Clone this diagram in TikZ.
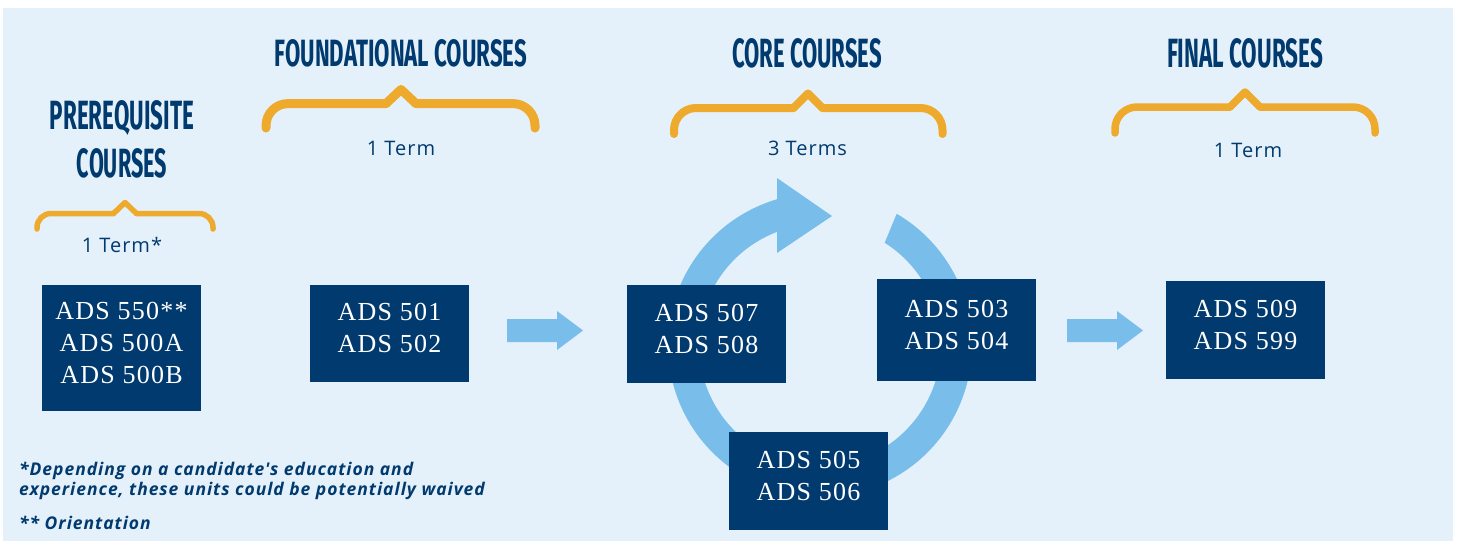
\documentclass[tikz,border=0pt]{standalone}
\usepackage{graphicx}
\usepackage{fontspec}
\setmainfont{Liberation Serif}
\newfontfamily\boxfamily{Liberation Serif}[LetterSpace=4.8]
\newfontfamily\labfamily{Open Sans}[LetterSpace=5]
\newfontfamily\notefamily{Open Sans}[LetterSpace=5.5]
\newfontfamily\headfamily{Fira Sans}
\definecolor{bgblue}{HTML}{E5F1FA}
\definecolor{navy}{HTML}{003A6E}
\definecolor{sky}{HTML}{79BEEA}
\definecolor{gold}{HTML}{EEAA2D}
\newcommand{\hd}[3]{\resizebox{#1pt}{#2pt}{#3}}
\begin{document}
\begin{tikzpicture}[x=1pt,y=-1pt,
  box/.style={fill=navy, minimum width=159pt, inner sep=0pt},
  boxtxt/.style={text=white, align=center, inner sep=0pt, font=\boxfamily\fontsize{26}{32}\selectfont},
  head/.style={text=navy, inner sep=0pt, anchor=base, font=\headfamily\bfseries},
  term/.style={text=navy, inner sep=0pt, anchor=base, font=\labfamily\fontsize{20}{24}\selectfont},
  note/.style={text=navy, inner sep=0pt, anchor=base west, font=\notefamily\bfseries\itshape\fontsize{17.5}{20}\selectfont},
  brace/.style={draw=gold, line width=8pt, line cap=round, line join=round},
  flow/.style={fill=sky}]
\useasboundingbox (0,0) rectangle (1457,541);
\fill[bgblue] (3,8) rectangle (1453,541);

% headings
\node[head] (hpre1) at (122,129) {\hd{144}{29}{PREREQUISITE}};
\node[head] (hpre2) at (122,177) {\hd{90}{29}{COURSES}};
\node[head] (hfnd) at (401,66) {\hd{252}{27}{FOUNDATIONAL COURSES}};
\node[head] (hcore) at (807,67) {\hd{150}{29}{CORE COURSES}};
\node[head] (hfin) at (1245,67) {\hd{156}{29}{FINAL COURSES}};

% braces
\draw[brace, line width=5.5pt, rounded corners=14pt] (37,229) -- (37,213.5) -- (113.5,213.5);
\draw[brace, line width=5.5pt] (113.5,213.5) -- (125,202.5) -- (136.5,213.5);
\draw[brace, line width=5.5pt, rounded corners=14pt] (136.5,213.5) -- (213,213.5) -- (213,229);

\draw[brace, line width=9pt, rounded corners=22pt] (266,128) -- (266,103.6) -- (386,103.6);
\draw[brace, line width=9pt] (386,103.6) -- (401,89.5) -- (416,103.6);
\draw[brace, line width=9pt, rounded corners=22pt] (416,103.6) -- (535,103.6) -- (535,128);

\draw[brace, rounded corners=22pt] (674,134) -- (674,108) -- (793.5,108);
\draw[brace] (793.5,108) -- (808,93.5) -- (822.5,108);
\draw[brace, rounded corners=22pt] (822.5,108) -- (942.5,108) -- (942.5,134);

\draw[brace, line width=7.5pt, rounded corners=22pt] (1115,133) -- (1115,107) -- (1230,107);
\draw[brace, line width=7.5pt] (1230,107) -- (1245,92) -- (1260,107);
\draw[brace, line width=7.5pt, rounded corners=22pt] (1260,107) -- (1375,107) -- (1375,133);

% term labels
\node[term] (tpre) at (122,252) {1 Term*};
\node[term] (tfnd) at (401,155) {1 Term};
\node[term] (tcore) at (807.5,155) {3 Terms};
\node[term] (tfin) at (1248,157) {1 Term};

% cycle arrow
\fill[flow] plot[domain=-59.7:254, samples=150] ({820+152*cos(\x)},{345+152*sin(\x)})
  -- plot[domain=249.6:-57.7, samples=150] ({820+121*cos(\x)},{345+121*sin(\x)}) -- cycle;
\fill[flow] (777,178) -- (832,216) -- (777,253) -- cycle;

% straight arrows
\fill[flow] (507,319) -- (557,319) -- (557,311) -- (583,330.5) -- (557,350) -- (557,342) -- (507,342) -- cycle;
\fill[flow] (1067,319) -- (1117,319) -- (1117,311) -- (1143,330.5) -- (1117,350) -- (1117,342) -- (1067,342) -- cycle;

% boxes
\node[box, minimum height=126pt] (pre) at (121.5,348) {};
\node[boxtxt] (pret) at ([yshift=5.5pt]pre.center) {ADS 550**\\ADS 500A\\ADS 500B};
\node[box, minimum height=97pt] (fnd) at (389.5,333.5) {};
\node[boxtxt] (fndt) at ([yshift=5.5pt]fnd.center) {ADS 501\\ADS 502};
\node[box, minimum height=98pt] (ca) at (706.5,334) {};
\node[boxtxt] (cat) at ([yshift=5.2pt]ca.center) {ADS 507\\ADS 508};
\node[box, minimum height=102pt] (cb) at (956.5,329.5) {};
\node[boxtxt] (cbt) at ([yshift=5pt]cb.center) {ADS 503\\ADS 504};
\node[box, minimum height=98pt] (cc) at (808.5,481) {};
\node[boxtxt] (cct) at ([yshift=5.2pt]cc.center) {ADS 505\\ADS 506};
\node[box, minimum height=98pt] (fin) at (1245.5,330) {};
\node[boxtxt] (fint) at ([yshift=5.2pt]fin.center) {ADS 509\\ADS 599};

% notes
\node[note] (n1) at (19,475) {*Depending on a candidate's education and};
\node[note] (n2) at (19,495) {experience, these units could be potentially waived};
\node[note] (n3) at (19,529) {** Orientation};
\end{tikzpicture}
\end{document}
